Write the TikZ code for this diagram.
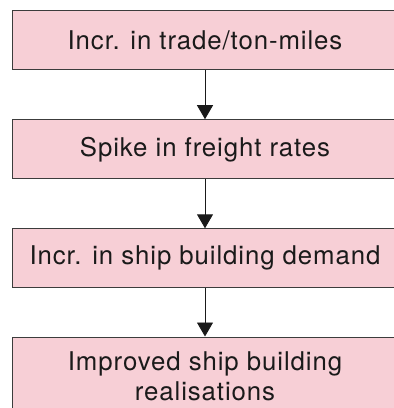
\documentclass[tikz,border=0pt]{standalone}
\usepackage{fontspec}
\setmainfont{TeX Gyre Heros}[LetterSpace=3.5]
\usetikzlibrary{arrows.meta}
\definecolor{boxfill}{HTML}{F7CFD6}
\definecolor{boxline}{HTML}{3C3C3C}
\definecolor{ink}{HTML}{1A1A1A}
\begin{document}
\begin{tikzpicture}[x=1pt,y=-1pt,
  box/.style={draw=boxline, fill=boxfill, line width=1pt,
    minimum width=386pt, minimum height=59pt, inner sep=0pt,
    align=center, text=ink, font=\fontsize{25.8}{30}\selectfont},
  flow/.style={draw=ink, line width=0.9pt,
    -{Triangle[width=16pt,length=14pt]}}]
\useasboundingbox (0,0) rectangle (394,408);
\clip (0,0) rectangle (394,408);
\node[box] (a) at (205,40) {Incr. in trade/ton-miles};
\node[box] (b) at (205,149.2) {Spike in freight rates};
\node[box] (c) at (205,258.3) {Incr. in ship building demand};
\node[box, minimum height=78pt] (d) at (205,376) {Improved ship building\\realisations};
\draw[flow] (a) -- (b);
\draw[flow] (b) -- (c);
\draw[flow] (c) -- (d);
\end{tikzpicture}
\end{document}
